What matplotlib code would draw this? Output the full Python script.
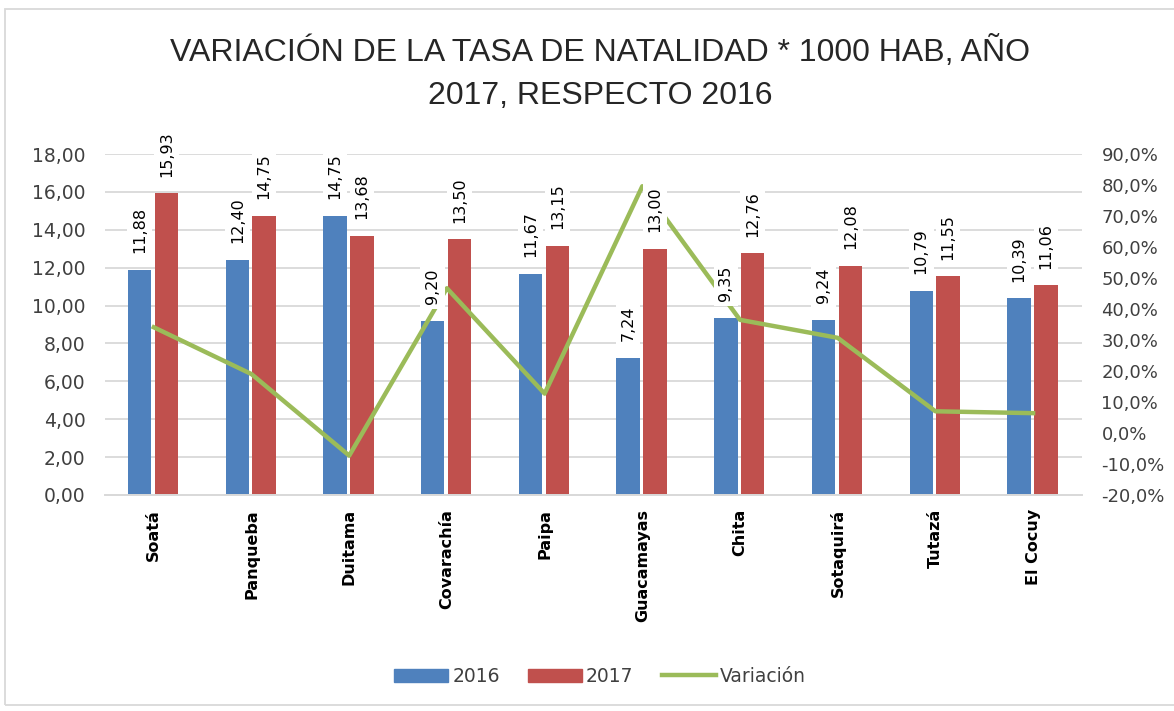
import matplotlib
matplotlib.use("Agg")
import matplotlib.pyplot as plt
import numpy as np
from matplotlib.patches import Rectangle, Patch
from matplotlib.lines import Line2D
from matplotlib.ticker import FuncFormatter

municipios = ["Soatá", "Panqueba", "Duitama", "Covarachía", "Paipa",
              "Guacamayas", "Chita", "Sotaquirá", "Tutazá", "El Cocuy"]
tasa_2016 = [11.88, 12.40, 14.75, 9.20, 11.67, 7.24, 9.35, 9.24, 10.79, 10.39]
tasa_2017 = [15.93, 14.75, 13.68, 13.50, 13.15, 13.00, 12.76, 12.08, 11.55, 11.06]
variacion = [0.341, 0.190, -0.073, 0.467, 0.127, 0.796, 0.365, 0.307, 0.070, 0.064]

AZUL = "#4F81BD"
ROJO = "#C0504D"
VERDE = "#9BBB59"
GRIS = "#D9D9D9"
TEXTO = "#404040"

plt.rcParams["font.family"] = ["DejaVu Sans"]

fig = plt.figure(figsize=(11.74, 7.11), dpi=100)
ax = fig.add_axes([0.0894, 0.3038, 0.8322, 0.4796])
ax2 = ax.twinx()

x = np.arange(len(municipios))
w = 0.24
ax.bar(x - 0.145, tasa_2016, w, color=AZUL, zorder=2)
ax.bar(x + 0.13, tasa_2017, w, color=ROJO, zorder=2)

ax.set_ylim(0, 18)
ax.set_yticks(np.arange(0, 18.01, 2))
ax.yaxis.set_major_formatter(FuncFormatter(lambda v, p: f"{v:.2f}".replace(".", ",")))
ax.grid(axis="y", color=GRIS, linewidth=1.3, zorder=0)
ax.set_axisbelow(True)
ax.set_xlim(-0.5, len(municipios) - 0.5)
ax.set_xticks(x)
ax.set_xticklabels(municipios, rotation=90, fontweight="bold", fontsize=11.5, color="black")
ax.tick_params(axis="x", length=0, pad=10)
ax.tick_params(axis="y", length=0, pad=14, labelsize=13.5, labelcolor=TEXTO)

ax2.plot(x, variacion, color=VERDE, linewidth=3.2, zorder=3)
ax2.set_ylim(-0.2, 0.9)
ax2.set_yticks(np.arange(-0.2, 0.901, 0.1))
ax2.yaxis.set_major_formatter(FuncFormatter(lambda v, p: f"{v*100:.1f}%".replace(".", ",")))
ax2.tick_params(axis="y", length=0, pad=14, labelsize=13, labelcolor=TEXTO)

for a in (ax, ax2):
    for s in ("top", "left", "right"):
        a.spines[s].set_visible(False)
    a.spines["bottom"].set_color(GRIS)
    a.spines["bottom"].set_linewidth(1.3)

# etiquetas de datos encima de la linea
for xi, v in zip(x - 0.145, tasa_2016):
    ax2.annotate(f"{v:.2f}".replace(".", ","), xy=(xi, v), xycoords=ax.transData,
                 xytext=(0, 12), textcoords="offset points", rotation=90,
                 ha="center", va="bottom", fontsize=11.5, color="black", zorder=5,
                 bbox=dict(boxstyle="square,pad=0.3", fc="white", ec="none"))
for xi, v in zip(x + 0.13, tasa_2017):
    ax2.annotate(f"{v:.2f}".replace(".", ","), xy=(xi, v), xycoords=ax.transData,
                 xytext=(0, 12), textcoords="offset points", rotation=90,
                 ha="center", va="bottom", fontsize=11.5, color="black", zorder=5,
                 bbox=dict(boxstyle="square,pad=0.3", fc="white", ec="none"))

fig.text(0.511, 0.8966, "VARIACIÓN DE LA TASA DE NATALIDAD * 1000 HAB, AÑO\n2017, RESPECTO 2016",
         ha="center", va="center", fontsize=23, linespacing=1.6, color="#262626",
         family=["Liberation Sans", "DejaVu Sans"])

handles = [Patch(color=AZUL), Patch(color=ROJO), Line2D([], [], color=VERDE, linewidth=3.2)]
fig.legend(handles, ["2016", "2017", "Variación"], loc="center", bbox_to_anchor=(0.511, 0.049),
           ncol=3, frameon=False, fontsize=13.5, handlelength=2.9, handleheight=0.7,
           handletextpad=0.2, columnspacing=1.5, labelcolor=TEXTO)

fig.patches.append(Rectangle((5 / 1174, 6 / 711), 1.0, 696 / 711, transform=fig.transFigure,
                             fill=False, edgecolor=GRIS, linewidth=1.3))

fig.savefig("out.png", dpi=100)
